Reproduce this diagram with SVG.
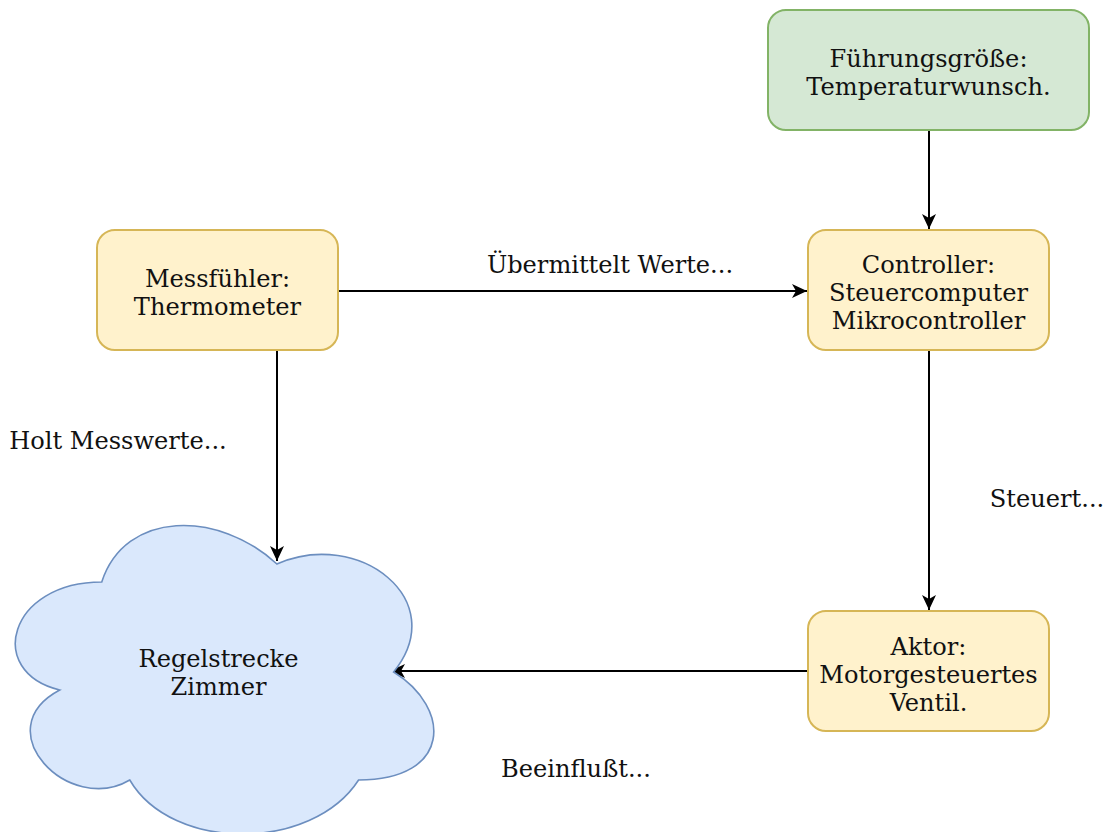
<svg xmlns="http://www.w3.org/2000/svg" width="1108" height="832" viewBox="0 0 1108 832">
<style>
text{font-family:"DejaVu Serif",serif;font-size:24.1px;fill:#111;text-anchor:middle}
.yel{fill:#fff2cc;stroke:#d6b656;stroke-width:2}
.grn{fill:#d5e8d4;stroke:#82b366;stroke-width:2}
.cld{fill:#dae8fc;stroke:#6c8ebf;stroke-width:1.6}
.edge{fill:none;stroke:#000;stroke-width:2}
</style>
<defs>
<marker id="arr" viewBox="0 0 16 14" refX="15" refY="7" markerWidth="16" markerHeight="14" markerUnits="userSpaceOnUse" orient="auto">
<path d="M0,0 L15,7 L0,14 L4,7 Z" fill="#000"/>
</marker>
</defs>
<rect width="1108" height="832" fill="#fff"/>
<g id="connectors">
<path class="edge" d="M929,131 L929,229" marker-end="url(#arr)"/>
<path class="edge" d="M338,291 L807,291" marker-end="url(#arr)"/>
<path class="edge" d="M277,350 L277,561" marker-end="url(#arr)"/>
<path class="edge" d="M929,350 L929,610" marker-end="url(#arr)"/>
<path class="edge" d="M808,671 L390,671" marker-end="url(#arr)"/>
</g>
<g id="fuehrungsgroesse">
<rect class="grn" x="768" y="10" width="321" height="120" rx="18"/>
<text x="928.5" y="67">Führungsgröße:</text>
<text x="928.5" y="95">Temperaturwunsch.</text>
</g>
<g id="messfuehler">
<rect class="yel" x="97" y="230" width="241" height="120" rx="18"/>
<text x="217.5" y="287">Messfühler:</text>
<text x="217.5" y="315">Thermometer</text>
</g>
<g id="controller">
<rect class="yel" x="808" y="230" width="241" height="120" rx="18"/>
<text x="928.5" y="273">Controller:</text>
<text x="928.5" y="301">Steuercomputer</text>
<text x="928.5" y="329">Mikrocontroller</text>
</g>
<g id="aktor">
<rect class="yel" x="808" y="611" width="241" height="120" rx="18"/>
<text x="928.5" y="655">Aktor:</text>
<text x="928.5" y="683">Motorgesteuertes</text>
<text x="928.5" y="711">Ventil.</text>
</g>
<g id="regelstrecke">
<path class="cld" d="M101.75,582 C8.35,582 -15,672 59.72,690 C-15,729.6 69.06,816 129.77,780 C171.8,852 311.9,852 358.6,780 C452,780 452,708 393.63,672 C452,600 358.6,528 276.88,564 C218.5,510 125.1,510 101.75,582 Z"/>
<text x="218.5" y="667">Regelstrecke</text>
<text x="218.5" y="695">Zimmer</text>
</g>
<g id="labels">
<text x="610" y="273">Übermittelt Werte...</text>
<text x="118" y="449">Holt Messwerte...</text>
<text x="1047" y="507">Steuert...</text>
<text x="576" y="777">Beeinflußt...</text>
</g>
</svg>
